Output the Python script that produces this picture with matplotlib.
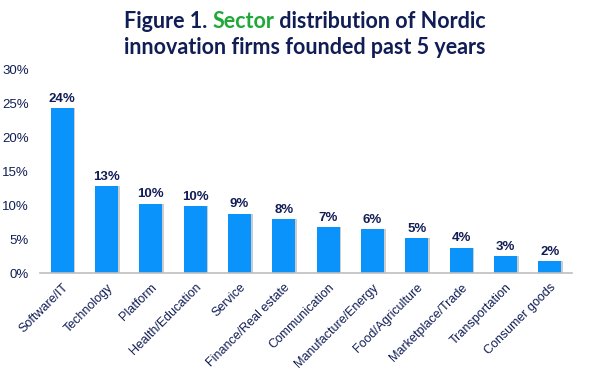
import matplotlib
matplotlib.use('Agg')
import matplotlib.pyplot as plt
import numpy as np

sectors = ['Software/IT', 'Technology', 'Platform', 'Health/Education', 'Service',
           'Finance/Real estate', 'Communication', 'Manufacture/Energy',
           'Food/Agriculture', 'Marketplace/Trade', 'Transportation', 'Consumer goods']
shares = [24.2, 12.8, 10.2, 9.8, 8.7, 7.9, 6.7, 6.4, 5.1, 3.7, 2.5, 1.7]
labels = ['24%', '13%', '10%', '10%', '9%', '8%', '7%', '6%', '5%', '4%', '3%', '2%']
yticks = [0, 5, 10, 15, 20, 25, 30]

navy = '#111D55'
blue = '#0A93FB'
green = '#22A83A'

plt.rcParams['font.family'] = ['Liberation Sans', 'DejaVu Sans']

fig = plt.figure(figsize=(5.9, 3.69), dpi=100)
ax = fig.add_axes([40 / 590, 1 - 273 / 369, 532 / 590, 204 / 369])

x = np.arange(len(sectors))
# light shadow behind bars
ax.bar(x + 0.04, shares, width=0.52, color='#cccccc', zorder=1)
ax.bar(x, shares, width=0.52, color=blue, zorder=2)

for xi, v, lab in zip(x, shares, labels):
    ax.text(xi, v + 0.5, lab, ha='center', va='bottom', fontsize=9.5,
            fontweight='bold', color=navy)

ax.set_xlim(-0.5, len(sectors) - 0.5)
ax.set_ylim(0, 30)
ax.set_yticks(yticks)
ax.set_yticklabels([f'{t}%' for t in yticks], fontsize=9.5, color=navy)
ax.set_xticks(x)
ax.set_xticklabels(sectors, rotation=45, ha='right', rotation_mode='anchor',
                   fontsize=9, color=navy)
ax.tick_params(axis='both', length=0)
ax.tick_params(axis='x', pad=6)
ax.tick_params(axis='y', pad=8)
for s in ['top', 'right', 'left']:
    ax.spines[s].set_visible(False)
ax.spines['bottom'].set_color('#bfbfbf')
ax.spines['bottom'].set_linewidth(1.2)

# title with one green word
tfont = dict(fontsize=15.5, fontweight='bold', family=['Lato', 'DejaVu Sans'])
r = fig.canvas.get_renderer()
parts = [('Figure 1. ', navy), ('Sector', green), (' distribution of Nordic', navy)]
tmp = [fig.text(0, 0, p, **tfont) for p, _ in parts]
widths = [t.get_window_extent(r).width for t in tmp]
for t in tmp:
    t.remove()
xpos = 305 - sum(widths) / 2
for (p, c), w in zip(parts, widths):
    fig.text(xpos / 590, 1 - 22 / 369, p, color=c, va='center', ha='left', **tfont)
    xpos += w
fig.text(305 / 590, 1 - 48 / 369, 'innovation firms founded past 5 years',
         color=navy, va='center', ha='center', **tfont)

fig.savefig('out.png', dpi=100)
